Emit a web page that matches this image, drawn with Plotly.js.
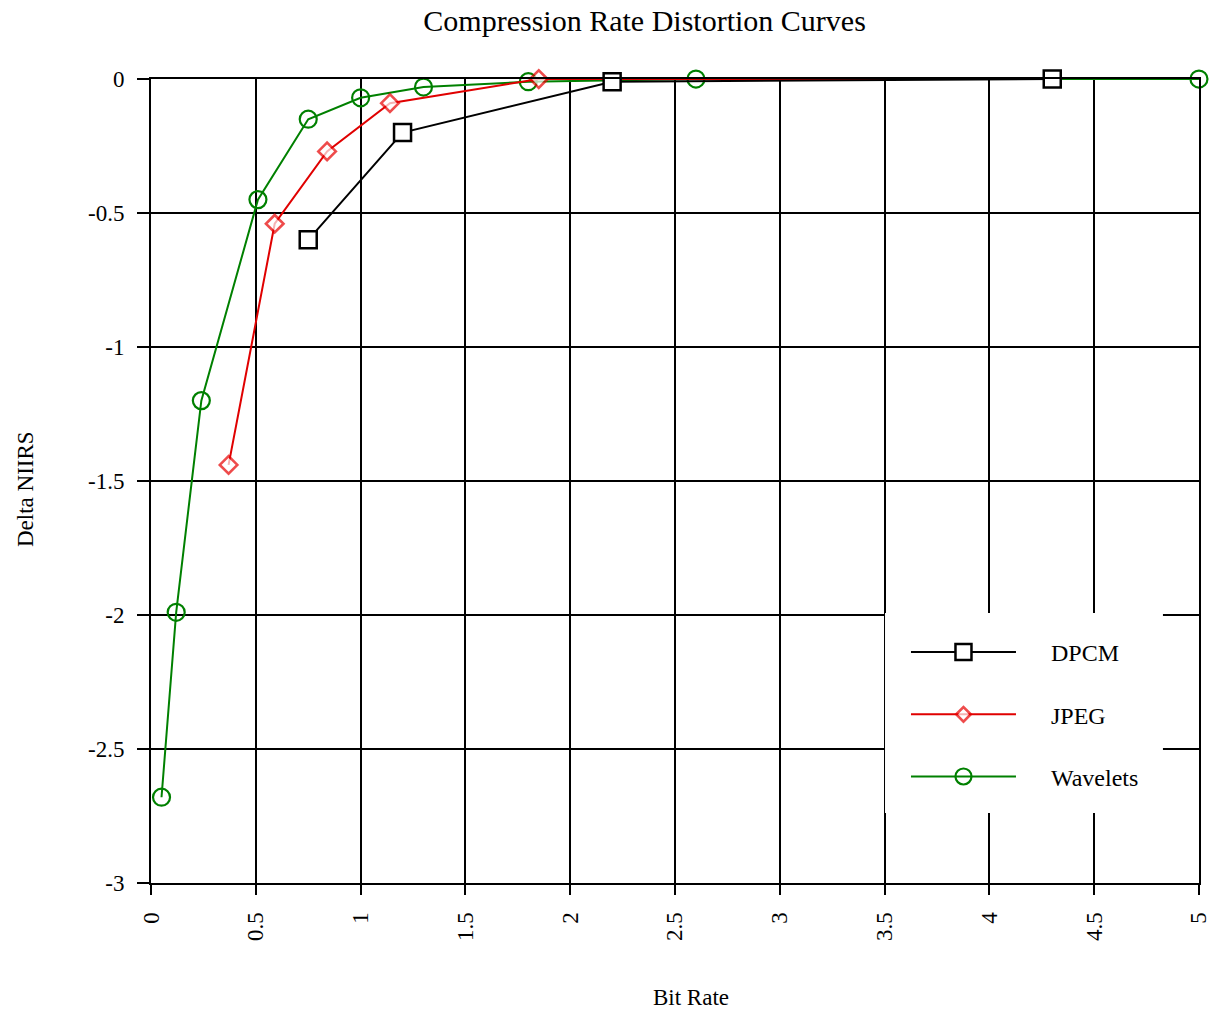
<!DOCTYPE html>
<html>
<head>
<meta charset="utf-8">
<script src="https://cdn.plot.ly/plotly-3.0.1.min.js"></script>
<style>html,body{margin:0;padding:0;background:#fff;}#chart{width:1211px;height:1011px;}</style>
</head>
<body>
<div id="chart"></div>
<script>
// Data
var seriesNames = ["Wavelets", "JPEG", "DPCM"];
var waveletsX = [0.05, 0.12, 0.24, 0.51, 0.75, 1.0, 1.3, 1.8, 2.6, 5.0];
var waveletsY = [-2.68, -1.99, -1.2, -0.45, -0.15, -0.07, -0.03, -0.01, 0, 0];
var jpegX = [0.37, 0.59, 0.84, 1.14, 1.85, 4.3];
var jpegY = [-1.44, -0.54, -0.27, -0.09, 0, 0];
var dpcmX = [0.75, 1.2, 2.2, 4.3];
var dpcmY = [-0.6, -0.2, -0.01, 0];
var xTicks = [0, 0.5, 1, 1.5, 2, 2.5, 3, 3.5, 4, 4.5, 5];
var yTicks = [0, -0.5, -1, -1.5, -2, -2.5, -3];
var chartTitle = "Compression Rate Distortion Curves";
var xTitle = "Bit Rate";
var yTitle = "Delta NIIRS";

var FONT = "Liberation Serif, Times New Roman, serif";
var PAD = "\u00A0\u00A0\u00A0\u00A0\u00A0";

var traces = [
  {
    x: waveletsX, y: waveletsY, name: PAD + seriesNames[0], legendgroup: "w", legendrank: 3,
    mode: "lines+markers", type: "scatter", cliponaxis: false,
    line: {color: "#008000", width: 2},
    marker: {symbol: "circle-open", size: 17, color: "#008000", line: {width: 2.2, color: "#008000"}}
  },
  {
    x: jpegX, y: jpegY, name: PAD + seriesNames[1], legendgroup: "j", legendrank: 2,
    mode: "lines+markers", type: "scatter", cliponaxis: false,
    line: {color: "#e00000", width: 2},
    marker: {symbol: "diamond", size: jpegX.map(function(v, i){ return i === jpegX.length - 1 ? 0 : 13.5; }),
             color: "#ffffff", line: {width: 2.6, color: "#e80000"}}
  },
  {
    x: dpcmX, y: dpcmY, name: PAD + seriesNames[2], legendgroup: "d", legendrank: 1,
    mode: "lines+markers", type: "scatter", cliponaxis: false,
    line: {color: "#000000", width: 2},
    marker: {symbol: "square", size: 17, color: "#ffffff", line: {width: 2.5, color: "#000000"}}
  }
];

var layout = {
  width: 1211, height: 1011,
  paper_bgcolor: "#ffffff", plot_bgcolor: "#ffffff",
  margin: {l: 151, r: 12, t: 79, b: 128, pad: 0},
  font: {family: FONT, color: "#000000", size: 23},
  title: {text: chartTitle, font: {family: FONT, size: 30, color: "#000"},
          x: 0.471, xanchor: "center", xref: "paper", y: 0.980, yanchor: "middle", yref: "container"},
  xaxis: {
    range: [-0.0002, 5.0002], tickvals: xTicks, ticktext: xTicks.map(String), tickangle: -90,
    showgrid: true, gridcolor: "#000000", gridwidth: 2,
    showline: true, mirror: true, linecolor: "#000000", linewidth: 2,
    ticks: "outside", ticklen: 10, tickwidth: 2, tickcolor: "#000", ticklabelstandoff: 8,
    ticklabeloverflow: "allow",
    zeroline: false, tickfont: {family: FONT, size: 23}
  },
  yaxis: {
    range: [-3.0001, 0.0001], tickvals: yTicks, ticktext: yTicks.map(String),
    showgrid: true, gridcolor: "#000000", gridwidth: 2,
    showline: true, mirror: true, linecolor: "#000000", linewidth: 2,
    ticks: "outside", ticklen: 12, tickwidth: 2, tickcolor: "#000", ticklabelstandoff: 8,
    ticklabeloverflow: "allow",
    zeroline: false, tickfont: {family: FONT, size: 23}
  },
  annotations: [
    {text: xTitle, xref: "paper", yref: "paper", x: 0.515, y: (883 - 997) / 804, xanchor: "center", yanchor: "middle",
     showarrow: false, font: {family: FONT, size: 23, color: "#000"}},
    {text: yTitle, xref: "paper", yref: "paper", x: (25 - 151) / 1048, y: 0.49, xanchor: "center", yanchor: "middle",
     textangle: -90, showarrow: false, font: {family: FONT, size: 23, color: "#000"}}
  ],
  shapes: [
    {type: "rect", xref: "paper", yref: "paper", x0: 0.7004, x1: 0.9656, y0: 0.0871, y1: 0.3358,
     fillcolor: "#ffffff", line: {width: 0}, layer: "above"}
  ],
  showlegend: true,
  legend: {
    x: 0.7204, y: 0.3147, xanchor: "left", yanchor: "top",
    bgcolor: "rgba(0,0,0,0)", borderwidth: 0,
    font: {family: FONT, size: 24, color: "#000"},
    traceorder: "grouped", tracegroupgap: 28, itemwidth: 105
  }
};

Plotly.newPlot("chart", traces, layout, {displayModeBar: false, staticPlot: true});
</script>
</body>
</html>
